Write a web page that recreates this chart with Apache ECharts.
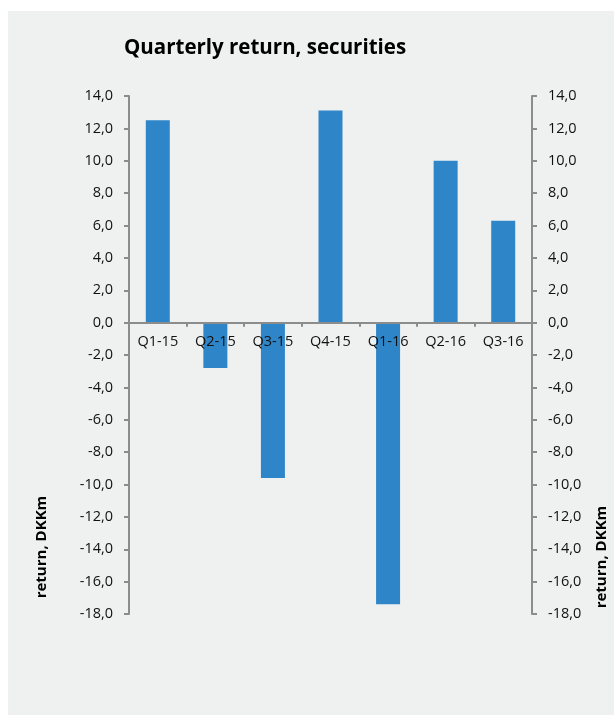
<!DOCTYPE html>
<html>
<head>
<meta charset="utf-8">
<script src="https://cdn.jsdelivr.net/npm/echarts@6/dist/echarts.min.js"></script>
<style>
html,body{margin:0;padding:0;background:#ffffff;}
#c{width:614px;height:715px;}
</style>
</head>
<body>
<div id="c"></div>
<script>
var titleText = 'Quarterly return, securities';
var axisTitle = 'return, DKKm';
var categories = ['Q1-15','Q2-15','Q3-15','Q4-15','Q1-16','Q2-16','Q3-16'];
var returns = [12.5, -2.8, -9.6, 13.1, -17.4, 10.0, 6.3];
var yMin = -18, yMax = 14, yStep = 2;

function fmt(v){ return v.toFixed(1).replace('.', ','); }
var font = '"Open Sans", "Liberation Sans", sans-serif';
var axisColor = '#8c8c8c';
var labelStyle = {color:'#111111', fontSize:14.5, fontFamily:font};

var gridTop = 96, gridBottom = 101, H = 715;
var gridH = H - gridTop - gridBottom;
var zeroOffset = -((0 - yMin) / (yMax - yMin)) * gridH;

var chart = echarts.init(document.getElementById('c'));
chart.setOption({
  backgroundColor: 'transparent',
  animation: false,
  title: {
    text: titleText, left: 119, top: 33,
    textStyle: {fontFamily: font, fontSize: 20.5, fontWeight: 'bold', color: '#000'}
  },
  graphic: [
    {type:'rect', z:-10, shape:{x:8, y:11, width:606, height:704}, style:{fill:'#eff0f0'}, silent:true},
    {type:'text', x:42, y:547, rotation:Math.PI/2, style:{text:axisTitle, fontFamily:font, fontSize:15, fontWeight:'bold', fill:'#000', align:'center', verticalAlign:'middle'}},
    {type:'text', x:602, y:557, rotation:Math.PI/2, style:{text:axisTitle, fontFamily:font, fontSize:15, fontWeight:'bold', fill:'#000', align:'center', verticalAlign:'middle'}}
  ],
  grid: {left:129, right:82, top:gridTop, bottom:gridBottom, containLabel:false},
  xAxis: {
    type:'category', data: categories, z: 5, position:'bottom', offset: zeroOffset,
    axisLine: {onZero:false, lineStyle:{color:axisColor, width:2}},
    axisTick: {show:true, alignWithLabel:false, length:4, lineStyle:{color:axisColor, width:2}},
    axisLabel: Object.assign({margin:12}, labelStyle),
    splitLine: {show:false}
  },
  yAxis: [
    {
      type:'value', min:yMin, max:yMax, interval:yStep, position:'left',
      axisLine:{show:true, onZero:false, lineStyle:{color:axisColor, width:2}},
      axisTick:{show:true, length:5, lineStyle:{color:axisColor, width:2}},
      axisLabel: Object.assign({formatter:fmt, margin:16}, labelStyle),
      splitLine:{show:false}
    },
    {
      type:'value', min:yMin, max:yMax, interval:yStep, position:'right',
      axisLine:{show:true, onZero:false, lineStyle:{color:axisColor, width:2}},
      axisTick:{show:true, length:5, lineStyle:{color:axisColor, width:2}},
      axisLabel: Object.assign({formatter:fmt, margin:16}, labelStyle),
      splitLine:{show:false}
    }
  ],
  series: [{
    type:'bar', data: returns, yAxisIndex:0,
    barWidth: 24,
    itemStyle:{color:'#2e86c9'}
  }]
});
</script>
</body>
</html>
